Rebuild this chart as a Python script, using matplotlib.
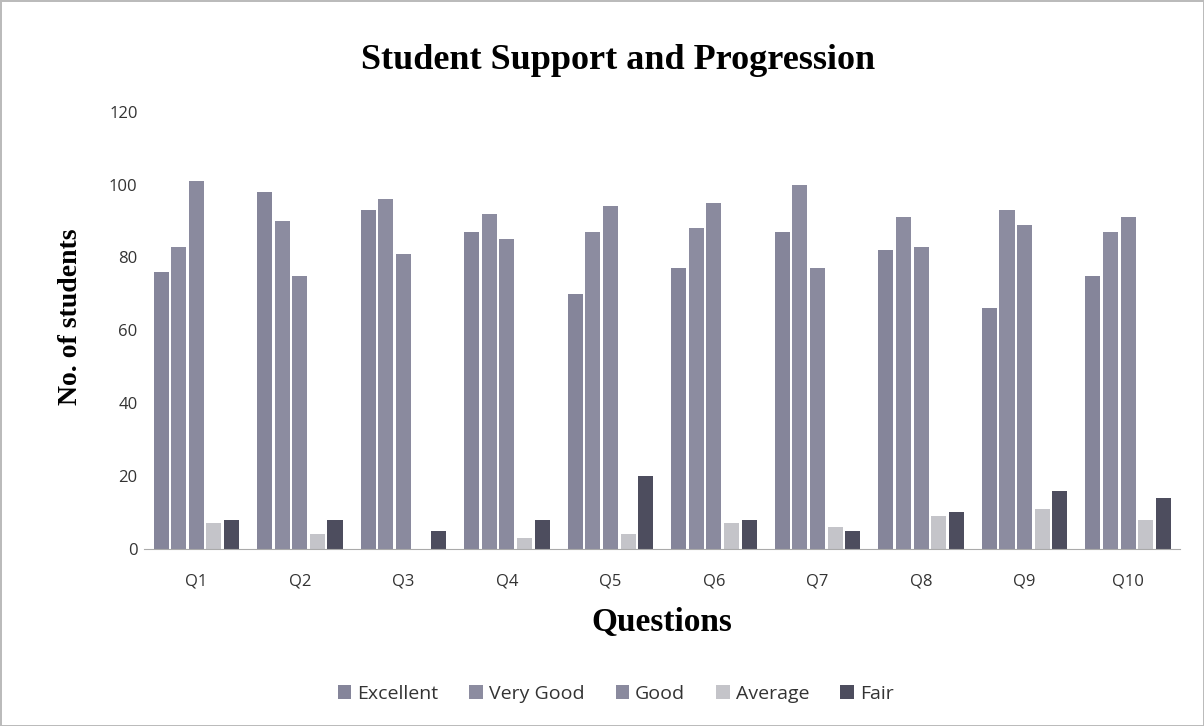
import numpy as np
import matplotlib
matplotlib.use('Agg')
import matplotlib.pyplot as plt

questions = ['Q1', 'Q2', 'Q3', 'Q4', 'Q5', 'Q6', 'Q7', 'Q8', 'Q9', 'Q10']
excellent = [76, 98, 93, 87, 70, 77, 87, 82, 66, 75]
very_good = [83, 90, 96, 92, 87, 88, 100, 91, 93, 87]
good = [101, 75, 81, 85, 94, 95, 77, 83, 89, 91]
average = [7, 4, 0, 3, 4, 7, 6, 9, 11, 8]
fair = [8, 8, 5, 8, 20, 8, 5, 10, 16, 14]

series = [('Excellent', excellent), ('Very Good', very_good), ('Good', good),
          ('Average', average), ('Fair', fair)]
colors = ['#85859a', '#8c8ca0', '#8a8a9e', '#c4c4c9', '#4d4d5e']

fig = plt.figure(figsize=(12.04, 7.26), dpi=100)
fig.patch.set_edgecolor('#bbbbbb')
fig.patch.set_linewidth(1.0)
ax = fig.add_axes([0.120, 0.244, 0.860, 0.602])

x = np.arange(len(questions))
step = 0.17
width = 0.145
for i, (name, vals) in enumerate(series):
    ax.bar(x + (i - 2) * step, vals, width, color=colors[i], label=name,
           edgecolor='none')

ax.set_xlim(-0.5, 9.5)
ax.set_ylim(0, 120)
ax.set_yticks(range(0, 121, 20))
ax.set_xticks(x)
ax.set_xticklabels(questions)
ax.tick_params(axis='x', length=0, labelsize=12, colors='#333333', pad=18)
ax.tick_params(axis='y', length=0, labelsize=12, colors='#333333', pad=5)
for lab in ax.get_xticklabels() + ax.get_yticklabels():
    lab.set_family('Open Sans')
for s in ['top', 'right', 'left']:
    ax.spines[s].set_visible(False)
ax.spines['bottom'].set_color('#aaaaaa')

fig.text(0.513, 0.917, 'Student Support and Progression', fontsize=26,
         fontweight='bold', family='Liberation Serif', ha='center', va='center')
ax.set_ylabel('No. of students', fontsize=20, fontweight='bold',
              family='Liberation Serif')
ax.yaxis.set_label_coords(-0.059, 0.53)
ax.set_xlabel('Questions', fontsize=24, fontweight='bold',
              family='Liberation Serif', labelpad=12)

leg = ax.legend(loc='center', bbox_to_anchor=(0.455, -0.331), ncol=5,
                frameon=False, prop={'family': 'Open Sans', 'size': 14},
                handlelength=0.7, handleheight=0.7, handletextpad=0.3,
                columnspacing=1.6)
for t in leg.get_texts():
    t.set_color('#333333')

fig.savefig('out.png', dpi=100)
